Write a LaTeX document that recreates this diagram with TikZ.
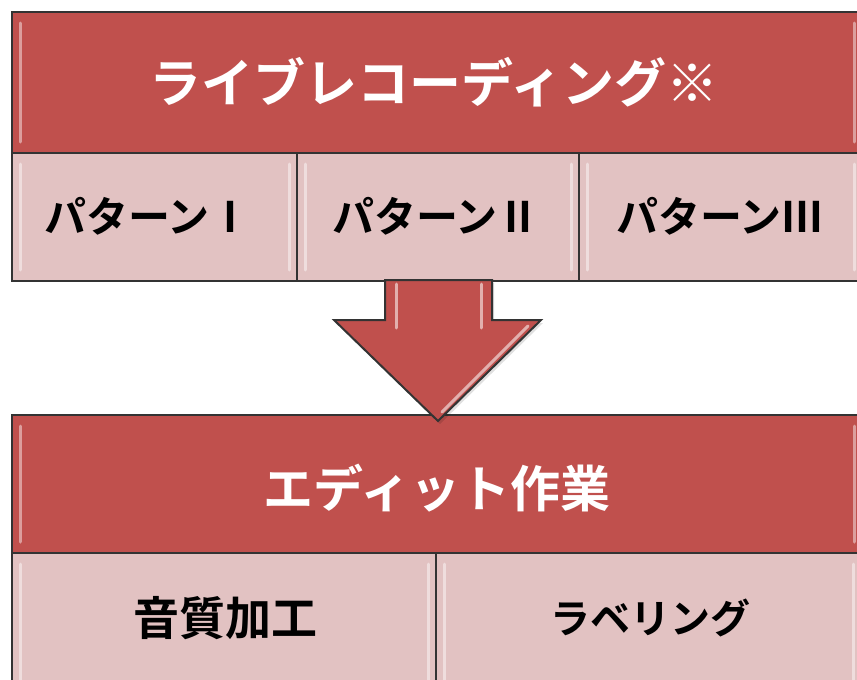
\documentclass[tikz,border=0pt]{standalone}
\usepackage{fontspec}
\newfontfamily\jpb[BoldFont={Noto Sans CJK JP Bold}]{Noto Sans CJK JP Bold}
\definecolor{hdr}{HTML}{C0504D}
\definecolor{cell}{HTML}{E2C2C2}
\definecolor{edge}{HTML}{333333}
\begin{document}
\begin{tikzpicture}[x=1pt,y=-1pt,
  box/.style={draw=edge,line width=2pt,rectangle,inner sep=0pt,anchor=north west},
  hbox/.style={box,fill=hdr},
  cbox/.style={box,fill=cell},
  htext/.style={text=white,font=\jpb\fontsize{52}{56}\selectfont},
  ctext/.style={text=black,font=\jpb\fontsize{42}{46}\selectfont},
  shine/.style={white,opacity=0.45,line width=3pt,line cap=round}]
\useasboundingbox (0,0) rectangle (857,680);
\begin{scope}
\clip (0,0) rectangle (857,680);
% top block
\node[hbox,minimum width=850pt,minimum height=141pt] (top) at (11,11) {};
\node[htext] (toptxt) at (434,82) {ライブレコーディング※};
\node[cbox,minimum width=285pt,minimum height=128pt] (p1) at (11,152) {};
\node[cbox,minimum width=282pt,minimum height=128pt] (p2) at (296,152) {};
\node[cbox,minimum width=283pt,minimum height=128pt] (p3) at (578,152) {};
\node[ctext] (p1t) at (148,216) {パターンⅠ};
\node[ctext] (p2t) at (436,216) {パターンⅡ};
\node[ctext] (p3t) at (720,216) {パターンⅢ};
% bottom block
\node[hbox,minimum width=850pt,minimum height=138pt] (bot) at (11,414) {};
\node[htext,font=\jpb\fontsize{50}{54}\selectfont] (bottxt) at (437,488) {エディット作業};
\node[cbox,minimum width=424pt,minimum height=140pt] (q1) at (11,552) {};
\node[cbox,minimum width=425pt,minimum height=140pt] (q2) at (435,552) {};
\node[ctext,font=\jpb\fontsize{46}{50}\selectfont] (q1t) at (225,618) {音質加工};
\node[ctext,font=\jpb\fontsize{40}{44}\selectfont] (q2t) at (650,618) {ラベリング};
% bevel highlights
\foreach \n in {top,p1,p2,p3,bot,q1,q2}{
  \draw[shine] ([xshift=9pt,yshift=-12pt]\n.north west) -- ([xshift=9pt,yshift=12pt]\n.south west);
  \draw[shine] ([xshift=-9pt,yshift=-12pt]\n.north east) -- ([xshift=-9pt,yshift=12pt]\n.south east);
}
% block arrow
\coordinate (a1) at (385,280);
\coordinate (a2) at (492,280);
\coordinate (a3) at (492,320);
\coordinate (a4) at (541,320);
\coordinate (tip) at (438,421);
\coordinate (a6) at (334,320);
\coordinate (a7) at (385,320);
\fill[black,opacity=0.12] ([shift={(2,3)}]a1) -- ([shift={(2,3)}]a2) -- ([shift={(2,3)}]a3) -- ([shift={(2,3)}]a4) -- ([shift={(2,3)}]tip) -- ([shift={(2,3)}]a6) -- ([shift={(2,3)}]a7) -- cycle;
\draw[draw=edge,line width=2pt,fill=hdr,line join=miter] (a1) -- (a2) -- (a3) -- (a4) -- (tip) -- (a6) -- (a7) -- cycle;
\draw[shine,opacity=0.55] (396,284) -- (396,328);
\draw[shine,opacity=0.55] (481,284) -- (481,328);
\draw[shine,opacity=0.55] (528,326) -- (442,412);
\end{scope}
\end{tikzpicture}
\end{document}
